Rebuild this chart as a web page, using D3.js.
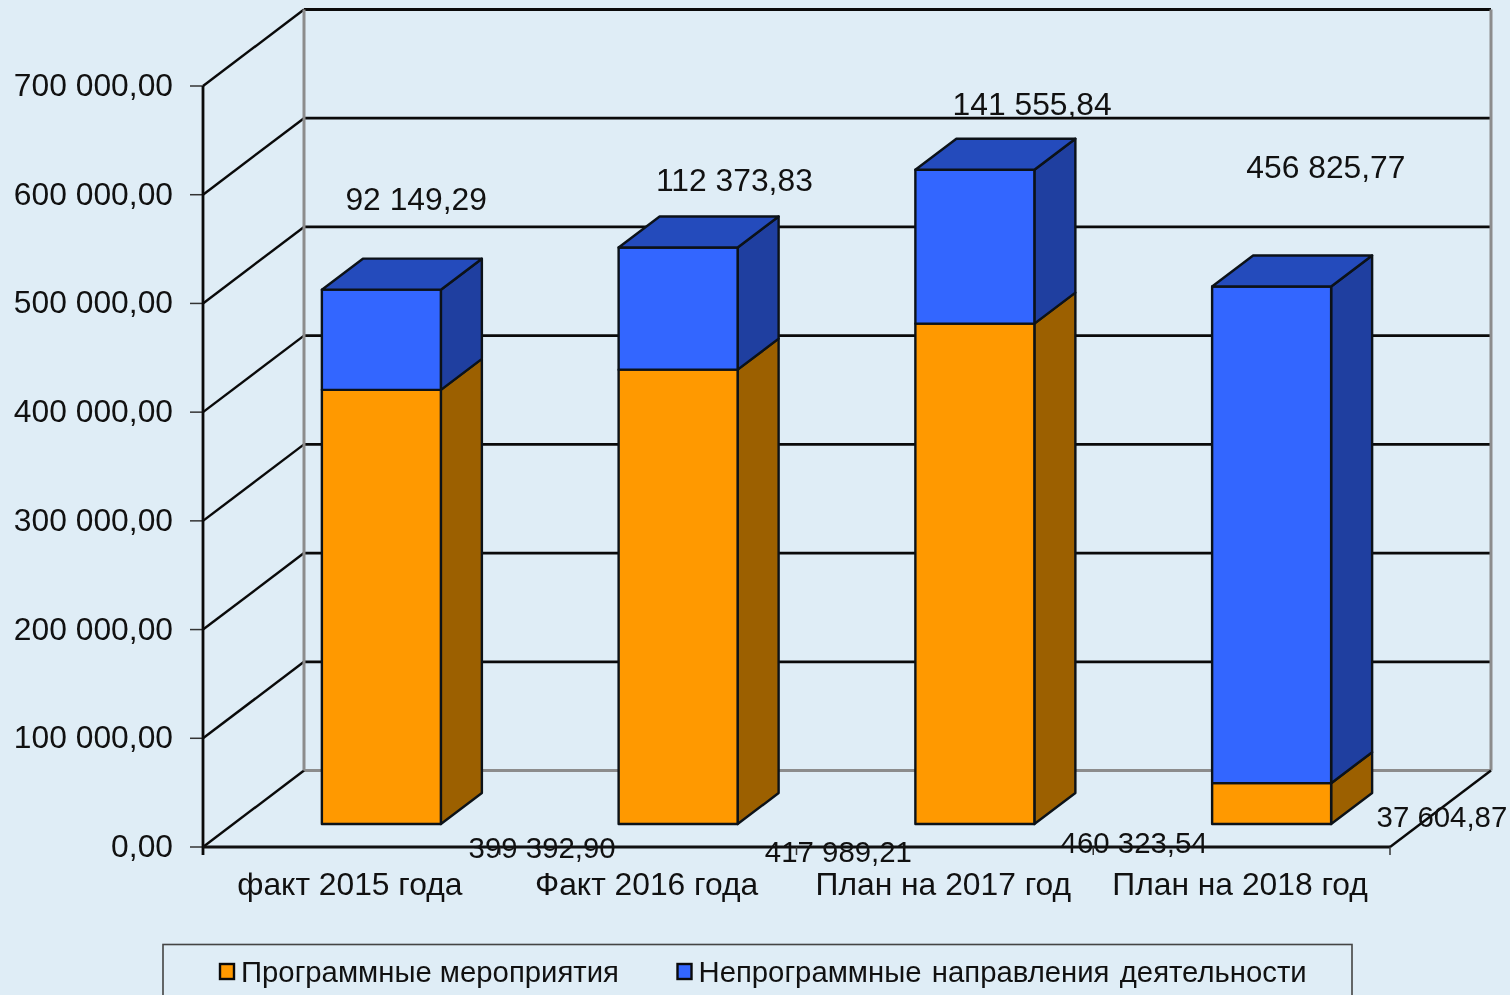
<!DOCTYPE html>
<html><head><meta charset="utf-8">
<script src="https://cdn.jsdelivr.net/npm/d3@7"></script>
<style>html,body{margin:0;padding:0;background:#DFEDF6;overflow:hidden}svg{display:block;filter:blur(.45px)}text{font-family:"Liberation Sans",Arial,sans-serif;fill:#111}</style>
</head><body><svg id="c" width="1510" height="995"></svg>
<script>
const categories=["факт 2015 года","Факт 2016 года","План на 2017 год","План на 2018 год"];
const seriesNames=["Программные мероприятия","Непрограммные направления деятельности"];
const programValues=[399392.90,417989.21,460323.54,37604.87];
const nonProgramValues=[92149.29,112373.83,141555.84,456825.77];
const programLabels=["399 392,90","417 989,21","460 323,54","37 604,87"];
const nonProgramLabels=["92 149,29","112 373,83","141 555,84","456 825,77"];
const tickValues=[0,100000,200000,300000,400000,500000,600000,700000];
const tickLabels=["0,00","100 000,00","200 000,00","300 000,00","400 000,00","500 000,00","600 000,00","700 000,00"];

const svg=d3.select("#c");
const FS=31.8, FS_LOW=29.4, DX=101, DY=76.5;
const y=d3.scaleLinear().domain([0,700000]).range([847,86]);
const x=d3.scaleBand().domain(categories).range([203,1390]);
const barW=119, depth=.3, bd=41, bdy=31;
const off=[depth*DX,-depth*DY];
const colors={o:{f:"#FF9900",s:"#9C6000"},b:{f:"#3366FF",s:"#1F3FA0",t:"#244BBC"}};

const g=svg.append("g");
const line=(x1,y1,x2,y2,c,w)=>g.append("line").attr("x1",x1).attr("y1",y1).attr("x2",x2).attr("y2",y2).attr("stroke",c).attr("stroke-width",w);
const [x0,x1]=x.range();
// walls
tickValues.forEach(t=>{
  const c=t===0?"#8c8c8c":"#0a0a0a";
  line(x0+DX,y(t)-DY,x1+DX,y(t)-DY,c,t===0?3:2.8);
  line(x0,y(t),x0+DX,y(t)-DY,"#0a0a0a",2.4);
  line(x0-13,y(t),x0,y(t),"#333",1.5);
});
line(x0+DX,y(700000)-DY,x0+DX,y(0)-DY,"#8c8c8c",3);
line(x1+DX,y(700000)-DY,x1+DX,y(0)-DY,"#8c8c8c",3);
line(x1,y(0),x1+DX,y(0)-DY,"#0a0a0a",2.4);
line(x0,y(700000),x0,y(0)+8,"#0a0a0a",2.8);
line(x0,y(0),x1,y(0),"#111",2.8);
categories.forEach(c=>line(x(c)+x.bandwidth(),y(0),x(c)+x.bandwidth(),y(0)+8,"#333",1.5));

// bars
function box(cat,from,to,col,top){
  const cx=x(cat)+x.bandwidth()/2+off[0]-.3;
  const l=cx-barW/2,r=cx+barW/2;
  const b=y(from)+off[1],t=y(to)+off[1];
  const bg=g.append("g").attr("stroke","#0c1218").attr("stroke-width",2.4).attr("stroke-linejoin","round");
  bg.append("path").attr("d",`M${r},${t}L${r+bd},${t-bdy}L${r+bd},${b-bdy}L${r},${b}Z`).attr("fill",col.s);
  bg.append("rect").attr("x",l).attr("y",t).attr("width",barW).attr("height",b-t).attr("fill",col.f);
  if(top)bg.append("path").attr("d",`M${l},${t}L${l+bd},${t-bdy}L${r+bd},${t-bdy}L${r},${t}Z`).attr("fill",col.t);
}
categories.forEach((c,i)=>{
  box(c,0,programValues[i],colors.o,false);
  box(c,programValues[i],programValues[i]+nonProgramValues[i],colors.b,true);
});

// axis labels
const txt=(s,px,py,anchor,fs)=>g.append("text").attr("x",px).attr("y",py).attr("text-anchor",anchor).attr("font-size",fs||FS).text(s);
tickValues.forEach((t,i)=>txt(tickLabels[i],173,y(t)+10,"end"));
categories.forEach((c,i)=>txt(c,x(c)+x.bandwidth()/2-1.5,895,"middle"));

// data labels, placed relative to each bar
const lowerShift=[[160.5,-.5],[160,3.5],[159,-5],[170,-31.5]];
const upperShift=[[34.5,-90],[56,-66],[57,-64.5],[54,-119]];
categories.forEach((c,i)=>{
  const cx=x(c)+x.bandwidth()/2+off[0];
  txt(programLabels[i],cx+lowerShift[i][0],y(0)+off[1]+lowerShift[i][1]+34,"middle",FS_LOW);
  txt(nonProgramLabels[i],cx+upperShift[i][0],y(programValues[i]+nonProgramValues[i])+off[1]+upperShift[i][1]+10,"middle");
});

// legend
g.append("rect").attr("x",163).attr("y",944.5).attr("width",1189).attr("height",70).attr("fill","none").attr("stroke","#444").attr("stroke-width",1.6);
const legX=[219,676.5];
const legWordGap=[0,2.2];
seriesNames.forEach((n,i)=>{
  g.append("rect").attr("x",legX[i]+1).attr("y",964).attr("width",14).attr("height",15).attr("fill",i?colors.b.f:colors.o.f).attr("stroke","#0a0a0a").attr("stroke-width",2.4);
  g.append("text").attr("x",legX[i]+22).attr("y",982).attr("font-size",29.3).attr("word-spacing",legWordGap[i]).text(n);
});
</script></body></html>
